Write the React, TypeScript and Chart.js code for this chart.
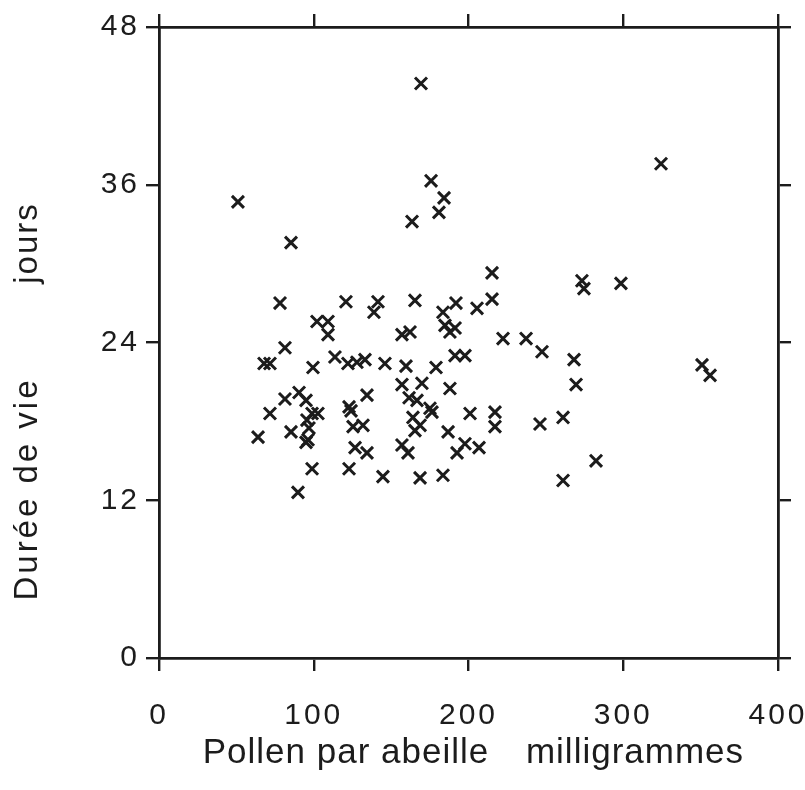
import { useEffect, useRef } from "react";
import { Chart, registerables } from "chart.js";

Chart.register(...registerables);

// Pollen per bee (mg) and lifespan (days)
const pollenMg = [
  169.3, 51.0, 324.4, 175.8, 184.2, 180.9, 163.5, 85.3, 215.2, 273.3,
  274.6, 298.5, 78.2, 120.8, 141.5, 138.9, 165.4, 183.5, 191.9, 205.5,
  215.2, 102.1, 109.2, 109.2, 157.0, 162.2, 184.8, 191.3, 188.0, 222.3,
  237.2, 247.5, 268.2, 269.5, 350.9, 356.1, 81.4, 67.9, 71.7, 99.5,
  113.7, 122.1, 127.9, 133.1, 146.0, 159.6, 179.0, 191.3, 197.7, 81.4,
  90.5, 95.0, 71.7, 98.9, 102.7, 95.6, 96.9, 96.3, 95.0, 85.3,
  64.0, 122.8, 124.1, 134.4, 125.4, 131.8, 126.7, 134.4, 98.9, 122.8,
  144.7, 89.8, 157.0, 169.9, 161.6, 166.7, 175.1, 176.4, 188.0, 164.1,
  168.7, 165.4, 157.0, 160.9, 186.8, 192.6, 197.7, 206.8, 168.7, 183.5,
  201.0, 217.1, 217.1, 246.2, 261.1, 282.4, 261.1,
];
const lifespanDays = [
  43.7, 34.7, 37.6, 36.3, 35.0, 33.9, 33.2, 31.6, 29.3, 28.7,
  28.1, 28.5, 27.0, 27.1, 27.1, 26.3, 27.2, 26.3, 27.0, 26.6,
  27.3, 25.6, 25.6, 24.6, 24.6, 24.8, 25.3, 25.1, 24.8, 24.3,
  24.3, 23.3, 22.7, 20.8, 22.3, 21.5, 23.6, 22.4, 22.4, 22.1,
  22.9, 22.4, 22.5, 22.7, 22.4, 22.2, 22.1, 23.0, 23.0, 19.7,
  20.2, 19.6, 18.6, 18.6, 18.6, 18.1, 17.5, 16.6, 16.4, 17.2,
  16.8, 19.1, 18.8, 20.0, 17.6, 17.7, 16.0, 15.6, 14.4, 14.4,
  13.8, 12.6, 20.8, 20.9, 19.8, 19.6, 19.0, 18.7, 20.5, 18.3,
  17.7, 17.3, 16.2, 15.6, 17.2, 15.6, 16.3, 16.0, 13.7, 13.9,
  18.6, 18.7, 17.6, 17.8, 18.3, 15.0, 13.5,
];
const xTickValues = [0, 100, 200, 300, 400];
const yTickValues = [0, 12, 24, 36, 48];
const xTitleParts = ["Pollen par abeille", "milligrammes"];
const yTitleParts = ["Durée de vie", "jours"];

const INK = "#1c1c1c";
const FONT = '"Liberation Sans", Arial, Helvetica, sans-serif';

export default function App() {
  const canvasRef = useRef<HTMLCanvasElement | null>(null);

  useEffect(() => {
    const canvas = canvasRef.current;
    if (!canvas) return;

    const points = pollenMg.map((x, i) => ({ x, y: lifespanDays[i] }));

    const spacingPlugin = {
      id: "spacing",
      beforeDraw(chart: any) {
        chart.ctx.letterSpacing = "3px";
      },
      afterDraw(chart: any) {
        chart.ctx.letterSpacing = "0px";
      },
    };

    const titlePlugin = {
      id: "titles",
      afterDraw(chart: any) {
        const ctx = chart.ctx as CanvasRenderingContext2D;
        ctx.save();
        ctx.fillStyle = INK;
        ctx.textAlign = "center";
        ctx.textBaseline = "alphabetic";
        ctx.font = `35px ${FONT}`;
        (ctx as any).letterSpacing = "1px";
        ctx.fillText(xTitleParts[0], 346, 763);
        ctx.fillText(xTitleParts[1], 635, 763);
        ctx.font = `33px ${FONT}`;
        ctx.save();
        (ctx as any).letterSpacing = "3px";
        ctx.translate(37, 489);
        ctx.rotate(-Math.PI / 2);
        ctx.fillText(yTitleParts[0], 0, 0);
        ctx.restore();
        ctx.save();
        (ctx as any).letterSpacing = "2px";
        ctx.translate(37, 243);
        ctx.rotate(-Math.PI / 2);
        ctx.fillText(yTitleParts[1], 0, 0);
        ctx.restore();
        ctx.restore();
      },
    };

    const axisCommon = {
      grid: {
        drawOnChartArea: false,
        drawTicks: true,
        tickLength: 13,
        color: INK,
        lineWidth: 2.4,
      },
      border: { display: true, color: INK, width: 2.8 },
    };

    const noPad = (s: any) => {
      s.paddingLeft = 0;
      s.paddingRight = 0;
      s.paddingTop = 0;
      s.paddingBottom = 0;
    };

    const chart = new Chart(canvas, {
      type: "scatter",
      data: {
        datasets: [
          {
            data: points,
            pointStyle: "crossRot",
            pointRadius: 8.5,
            pointHoverRadius: 8.5,
            borderColor: INK,
            backgroundColor: INK,
            pointBorderWidth: 3,
            borderWidth: 3,
            xAxisID: "x",
            yAxisID: "y",
          },
        ],
      },
      options: {
        animation: false,
        responsive: true,
        maintainAspectRatio: false,
        layout: { padding: 0 },
        plugins: {
          legend: { display: false },
          tooltip: { enabled: false },
          title: { display: false },
        },
        scales: {
          x: {
            type: "linear",
            position: "bottom",
            min: 0,
            max: 400,
            afterBuildTicks: (s: any) => {
              s.ticks = xTickValues.map((v) => ({ value: v }));
            },
            ticks: {
              color: INK,
              padding: 27,
              maxRotation: 0,
              font: { family: FONT, size: 30 },
            },
            afterFit: (s: any) => {
              s.height = 132;
              noPad(s);
            },
            ...axisCommon,
          },
          xTop: {
            type: "linear",
            position: "top",
            min: 0,
            max: 400,
            afterBuildTicks: (s: any) => {
              s.ticks = xTickValues.map((v) => ({ value: v }));
            },
            ticks: { display: false },
            afterFit: (s: any) => {
              s.height = 27;
              noPad(s);
            },
            ...axisCommon,
          },
          y: {
            type: "linear",
            position: "left",
            min: 0,
            max: 48,
            afterBuildTicks: (s: any) => {
              s.ticks = yTickValues.map((v) => ({ value: v }));
            },
            ticks: {
              color: INK,
              padding: 6,
              font: { family: FONT, size: 30 },
            },
            afterFit: (s: any) => {
              s.width = 159;
              noPad(s);
            },
            ...axisCommon,
          },
          yRight: {
            type: "linear",
            position: "right",
            min: 0,
            max: 48,
            afterBuildTicks: (s: any) => {
              s.ticks = yTickValues.map((v) => ({ value: v }));
            },
            ticks: { display: false },
            afterFit: (s: any) => {
              s.width = 27;
              noPad(s);
            },
            ...axisCommon,
          },
        },
      } as any,
      plugins: [spacingPlugin, titlePlugin],
    });

    return () => chart.destroy();
  }, []);

  return (
    <div
      style={{
        position: "absolute",
        left: 0,
        top: 0,
        width: 805,
        height: 790,
        background: "#ffffff",
      }}
    >
      <canvas ref={canvasRef} />
    </div>
  );
}
